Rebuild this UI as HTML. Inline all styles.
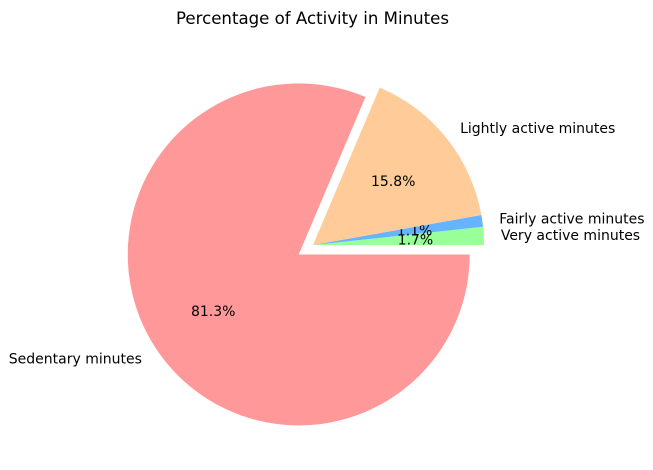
<!DOCTYPE html>
<html><head><meta charset="utf-8"><style>
body{margin:0;background:#fff;}
svg{display:block;font-family:"DejaVu Sans","Liberation Sans",sans-serif;}
</style></head><body>
<svg id="chart" width="653" height="470" viewBox="0 0 653 470">
<text x="312.5" y="24" text-anchor="middle" font-size="16.6">Percentage of Activity in Minutes</text>
<g id="slices"></g>
</svg>
<script>
const categories = ["Very active minutes","Fairly active minutes","Lightly active minutes","Sedentary minutes"];
const values = [1.7, 1.1, 15.8, 81.3];
const explode = [0, 0, 0, 0.1];
const colors = ["#99ff99","#66b3ff","#ffcc99","#ff9999"];
const cx = 313, cy = 245, R = 171;
const g = document.getElementById('slices');
const NS = "http://www.w3.org/2000/svg";
const total = values.reduce((a,b)=>a+b,0);
let start = 0;
values.forEach((v,i)=>{
  const a0 = start/total*2*Math.PI, a1 = (start+v)/total*2*Math.PI;
  start += v;
  const mid = (a0+a1)/2;
  const ox = cx + explode[i]*R*Math.cos(mid), oy = cy - explode[i]*R*Math.sin(mid);
  const x0 = ox + R*Math.cos(a0), y0 = oy - R*Math.sin(a0);
  const x1 = ox + R*Math.cos(a1), y1 = oy - R*Math.sin(a1);
  const large = (a1-a0) > Math.PI ? 1 : 0;
  const p = document.createElementNS(NS,'path');
  p.setAttribute('d',`M${ox},${oy} L${x0},${y0} A${R},${R} 0 ${large} 0 ${x1},${y1} Z`);
  p.setAttribute('fill',colors[i]);
  
  
  g.appendChild(p);
  const c = Math.cos(mid), s = Math.sin(mid);
  const lt = document.createElementNS(NS,'text');
  lt.setAttribute('x', ox + 1.1*R*c);
  lt.setAttribute('y', oy - 1.1*R*s + 5);
  lt.setAttribute('font-size','14');
  lt.setAttribute('text-anchor', c >= 0 ? 'start' : 'end');
  lt.textContent = categories[i];
  
  
  g.appendChild(lt);
  const pt = document.createElementNS(NS,'text');
  pt.setAttribute('x', ox + 0.6*R*c);
  pt.setAttribute('y', oy - 0.6*R*s + 5);
  pt.setAttribute('font-size','14');
  pt.setAttribute('text-anchor','middle');
  pt.textContent = v.toFixed(1) + '%';
  
  
  g.appendChild(pt);
});
</script>
</body></html>
